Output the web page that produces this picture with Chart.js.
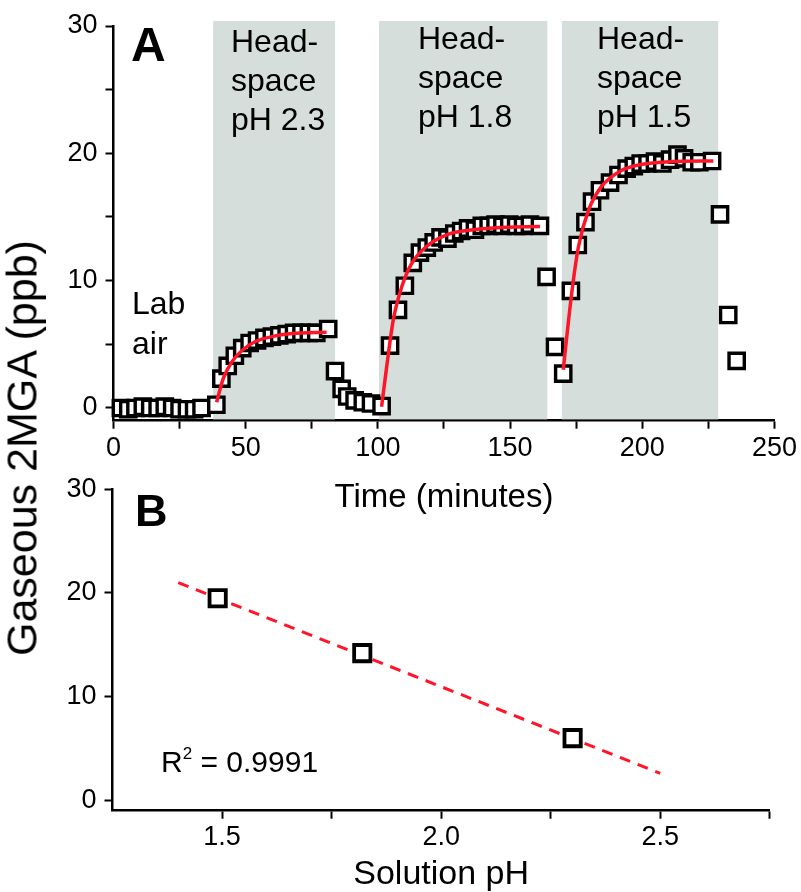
<!DOCTYPE html>
<html>
<head>
<meta charset="utf-8">
<script src="https://cdn.jsdelivr.net/npm/chart.js@4.4.0/dist/chart.umd.min.js"></script>
<style>
  html, body { margin: 0; padding: 0; background: #fff; }
  body { width: 801px; height: 892px; position: relative; overflow: hidden;
         font-family: "Liberation Sans", Arial, sans-serif; color: #000; }
  canvas { position: absolute; left: 0; }
  #chartA { top: 0; }
  #chartB { top: 460px; }
  .txt { position: absolute; white-space: nowrap; }
  .panel { font-weight: bold; line-height: 1; }
  .note { font-size: 32px; line-height: 39px; }
  #yTitle { left: 22px; top: 448px; font-size: 43px; line-height: 1;
            transform: translate(-50%, -50%) rotate(-90deg); }
</style>
</head>
<body>
<canvas id="chartA" width="801" height="520"></canvas>
<canvas id="chartB" width="801" height="432"></canvas>

<div class="txt" id="yTitle">Gaseous 2MGA (ppb)</div>
<div class="txt panel" style="left:131px; top:21px; font-size:48px;">A</div>
<div class="txt panel" style="left:135px; top:488px; font-size:45px;">B</div>
<div class="txt note" style="left:132px; top:283px; line-height:40px;">Lab<br>air</div>
<div class="txt note" style="left:231px; top:22px;">Head-<br>space<br>pH 2.3</div>
<div class="txt note" style="left:418px; top:19px;">Head-<br>space<br>pH 1.8</div>
<div class="txt note" style="left:597px; top:19px;">Head-<br>space<br>pH 1.5</div>
<div class="txt" style="left:161px; top:745px; font-size:30px; line-height:1;">R<sup style="font-size:17px; vertical-align:13px;">2</sup> = 0.9991</div>

<script>
// ---- Panel A: gaseous 2MGA over time ----
const measTime = [2.8, 5.6, 8.3, 11.1, 13.9, 16.7, 19.4, 22.2, 25.0, 27.8, 30.5, 33.3,
    38.9, 40.8, 43.2, 45.9, 48.7, 51.5, 54.3, 57.1, 59.9, 62.7, 65.5, 68.3, 71.1, 73.9, 76.7, 81.2,
    83.8, 86.3, 88.4, 91.2, 94.3, 97.4, 101.4,
    104.6, 107.6, 110.2, 113.2, 115.9, 118.5, 121.1, 123.7, 126.3, 128.9, 131.5, 134.1, 136.7,
    139.3, 141.9, 144.5, 147.1, 149.7, 152.3, 154.9, 157.5, 161.3,
    163.8, 167.0,
    170.1, 173.0, 175.6, 178.5, 181.0, 184.0, 187.8, 191.0, 194.1, 196.8, 199.4, 202.0, 204.8,
    207.6, 210.5, 213.3, 215.8, 218.7, 221.6, 226.4,
    229.4, 232.5, 235.7];
const measPpb = [0.0, -0.1, 0.0, 0.1, 0.0, 0.0, 0.1, 0.0, -0.1, -0.1, -0.1, 0.0,
    0.25, 2.3, 3.3, 4.1, 4.7, 5.1, 5.3, 5.5, 5.6, 5.7, 5.8, 5.9, 5.9, 5.9, 5.9, 6.2,
    2.9, 1.5, 0.9, 0.6, 0.45, 0.35, 0.15,
    4.9, 7.7, 9.6, 11.4, 12.2, 12.6, 13.0, 13.4, 13.3, 13.7, 13.9, 14.1, 14.0,
    14.3, 14.3, 14.4, 14.3, 14.4, 14.3, 14.3, 14.4, 14.3,
    10.3, 4.8,
    2.7, 9.2, 12.8, 14.6, 16.2, 17.1, 17.7, 18.3, 18.8, 19.0, 19.2, 19.2, 19.35,
    19.2, 19.5, 19.9, 19.6, 19.3, 19.3, 19.4,
    15.2, 7.3, 3.7];

// red fit curves
const fit23Time = [39.0, 41.5, 44.7, 48.5, 53.5, 59.8, 67.4, 80.6];
const fit23Ppb  = [0.45, 2.3, 3.6, 4.5, 5.2, 5.6, 5.85, 5.95];
const fit18Time = [101.4, 103.3, 105.8, 109.0, 112.8, 118.5, 126.0, 136.1, 148.7, 161.3];
const fit18Ppb  = [0.1, 3.2, 6.9, 9.5, 11.35, 12.7, 13.6, 14.0, 14.2, 14.25];
const fit15Time = [170.1, 173.3, 175.8, 179.6, 184.6, 191.6, 199.1, 211.7, 226.9];
const fit15Ppb  = [3.0, 9.0, 12.6, 15.5, 17.4, 18.6, 19.1, 19.35, 19.4];

// headspace sampling windows (minutes)
const headStart = [37.7, 100.4, 169.6];
const headEnd   = [83.8, 164.1, 228.7];

const timeTicks = [0, 25, 50, 75, 100, 125, 150, 175, 200, 225, 250];
const timeTickLabels = ['0', '', '50', '', '100', '', '150', '', '200', '', '250'];
const ppbTicksA = [0, 5, 10, 15, 20, 25, 30];
const ppbTickLabelsA = ['0', '', '10', '', '20', '', '30'];

// ---- Panel B: 2MGA vs solution pH ----
const solutionPh = [1.49, 1.82, 2.30];
const plateauPpb = [19.5, 14.2, 6.0];
const linFitPh  = [1.4, 2.5];
const linFitPpb = [21.0, 2.6];
const phTicks = [1.5, 1.75, 2.0, 2.25, 2.5, 2.75];
const phTickLabels = ['1.5', '', '2.0', '', '2.5', ''];
const ppbTicksB = [0, 10, 20, 30];
const ppbTickLabelsB = ['0', '10', '20', '30'];

const FONT = '"Liberation Sans", Arial, sans-serif';
const RED = '#ff1428';

function pts(xs, ys) {
    return xs.map((x, i) => ({ x: x, y: ys[i] }));
}

function fitLine(xs, ys) {
    return {
        type: 'line', data: pts(xs, ys), borderColor: RED, borderWidth: 3.5,
        pointRadius: 0, cubicInterpolationMode: 'monotone', fill: false
    };
}

// axis with outward ticks, no grid, fixed labels
function axis(min, max, tickVals, tickLabels, size, pad, extra) {
    return Object.assign({
        type: 'linear', min: min, max: max,
        afterBuildTicks: s => { s.ticks = tickVals.map(v => ({ value: v })); },
        ticks: {
            callback: (v, i) => tickLabels[i], autoSkip: false, maxRotation: 0,
            font: { size: 27, family: FONT }, color: '#000', padding: pad
        },
        grid: { drawOnChartArea: false, tickLength: 8, tickWidth: 2, tickColor: '#000' },
        border: { color: '#000', width: 2.5 },
        afterFit: s => { if (s.isHorizontal()) s.height = size; else s.width = size; }
    }, extra);
}

const shadePlugin = {
    id: 'shade',
    beforeDatasetsDraw(chart) {
        const { ctx, chartArea, scales: { x, y } } = chart;
        ctx.save();
        ctx.fillStyle = '#d5dedb';
        headStart.forEach((s, i) => {
            const x0 = x.getPixelForValue(s);
            const x1 = x.getPixelForValue(headEnd[i]);
            const y0 = y.getPixelForValue(30.4);
            ctx.fillRect(x0, y0, x1 - x0, chartArea.bottom - 1.3 - y0);
        });
        ctx.restore();
    }
};

new Chart(document.getElementById('chartA'), {
    type: 'scatter',
    data: {
        datasets: [
            fitLine(fit23Time, fit23Ppb),
            fitLine(fit18Time, fit18Ppb),
            fitLine(fit15Time, fit15Ppb),
            {
                data: pts(measTime, measPpb), pointStyle: 'rect', pointRadius: 10.8,
                borderColor: '#000', backgroundColor: '#fff', borderWidth: 3.4, clip: false
            }
        ]
    },
    options: {
        responsive: false, animation: false,
        layout: { padding: { top: 26, right: 26.5, left: 0, bottom: 0 } },
        plugins: { legend: { display: false }, tooltip: { enabled: false } },
        scales: {
            x: axis(0, 250, timeTicks, timeTickLabels, 99.3, 4, {
                title: { display: true, text: 'Time (minutes)', color: '#000',
                         font: { size: 33, family: FONT }, padding: { top: 0, bottom: 2 } }
            }),
            y: axis(-1, 30, ppbTicksA, ppbTickLabelsA, 113.5, 8)
        }
    },
    plugins: [shadePlugin]
});

new Chart(document.getElementById('chartB'), {
    type: 'scatter',
    data: {
        datasets: [
            {
                data: pts(solutionPh, plateauPpb), pointStyle: 'rect', pointRadius: 11.5,
                borderColor: '#000', backgroundColor: '#fff', borderWidth: 3.8, clip: false
            },
            {
                type: 'line', data: pts(linFitPh, linFitPpb), borderColor: RED, borderWidth: 3,
                borderDash: [11, 8], pointRadius: 0, fill: false
            }
        ]
    },
    options: {
        responsive: false, animation: false,
        layout: { padding: { top: 29.3, right: 31.2, left: 0, bottom: 0 } },
        plugins: { legend: { display: false }, tooltip: { enabled: false } },
        scales: {
            x: axis(1.25, 2.75, phTicks, phTickLabels, 81.3, 3, {
                title: { display: true, text: 'Solution pH', color: '#000',
                         font: { size: 34, family: FONT, lineHeight: 1 }, padding: { top: 0, bottom: 0 } }
            }),
            y: axis(-1, 30, ppbTicksB, ppbTickLabelsB, 112.5, 8)
        }
    }
});
</script>
</body>
</html>
